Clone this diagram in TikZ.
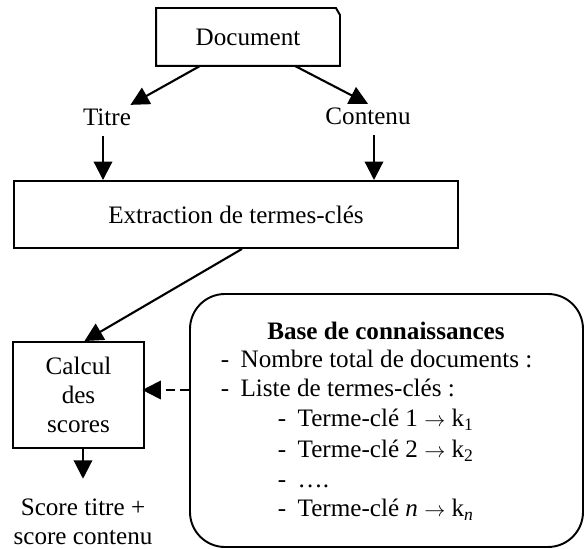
\documentclass[tikz,border=0pt]{standalone}
\usepackage{fontspec}
\setmainfont{Liberation Serif}
\usetikzlibrary{arrows.meta, positioning, calc}
\newcommand{\kbto}{{\fontsize{12}{12}\selectfont$\rightarrow$}}
\tikzset{
  every picture/.style={font=\fontsize{14.3}{16.5}\selectfont, line width=1.1pt},
  box/.style={draw, rectangle, align=center, inner sep=0pt},
  label/.style={inner sep=2pt, align=center},
  arrow/.style={-{Triangle[length=10.5pt, width=10.5pt]}, line width=1.2pt},
  dasharrow/.style={arrow, dash pattern=on 5pt off 3pt},
  kbitem/.style={anchor=base west, inner sep=0pt},
}
\begin{document}
\begin{tikzpicture}[x=1cm, y=1cm]
  \useasboundingbox (0,0) rectangle (11.72,10.98);
  % input document
  \node[inner sep=0pt, minimum width=3.64cm, minimum height=1.12cm] (doc) at (4.96,10.24) {Document};
  \draw (doc.south west) |- ([xshift=-0.08cm]doc.north east) -- ([yshift=-0.14cm]doc.north east) -- (doc.south east) -- cycle;
  \node[label, anchor=base] (titre) at (2.14,8.46) {Titre};
  \node[label, anchor=base] (contenu) at (7.36,8.48) {Contenu};
  \node[box, minimum width=8.88cm, minimum height=1.34cm] (extract) at (4.72,6.69) {Extraction de termes-clés};
  % scoring
  \node[box, minimum width=2.62cm, minimum height=2.12cm] (calcul) at (1.57,3.08) {Calcul\\des\\scores};
  \node[label] (score) at (1.66,0.54) {Score titre +\\score contenu};
  % knowledge base
  \node[draw, rounded corners=0.7cm, minimum width=7.86cm, minimum height=5.06cm] (base) at (7.73,2.57) {};
  \node[font=\fontsize{14.3}{16.5}\selectfont\bfseries, anchor=base, inner sep=0pt] (basetitle) at (7.72,4.18) {Base de connaissances};
  \foreach \i/\x/\y/\t in {1/4.40/3.62/{Nombre total de documents :},
                          2/4.40/3.04/{Liste de termes-clés :},
                          3/5.54/2.44/{Terme-clé 1 \kbto{} k\textsubscript{1}},
                          4/5.54/1.82/{Terme-clé 2 \kbto{} k\textsubscript{2}},
                          5/5.54/1.22/{….},
                          6/5.54/0.64/{Terme-clé \textit{n} \kbto{} k\textsubscript{\textit{n}}}}
    \node[kbitem] (item-\i) at (\x,\y) {-\hspace{0.45em}\t};
  % connectors
  \draw[arrow] ([xshift=-0.96cm]doc.south) -- ([xshift=-0.1cm]titre.north east);
  \draw[arrow] ([xshift=0.94cm]doc.south) -- (contenu.north);
  \draw[arrow, shorten <=3pt] ([xshift=-0.08cm]titre.south) -- ([xshift=-0.08cm]titre.south |- extract.north);
  \draw[arrow, shorten <=3pt] ([xshift=0.12cm]contenu.south) -- ([xshift=0.12cm]contenu.south |- extract.north);
  \draw[arrow] ([xshift=0.12cm]extract.south) -- ([xshift=0.12cm]calcul.north);
  \draw[arrow, shorten >=9pt] (calcul.south -| score.north) -- (score.north);
  \draw[dasharrow, shorten >=-1.5pt] ([yshift=0.1cm]calcul.east -| base.west) -- ([yshift=0.1cm]calcul.east);
\end{tikzpicture}
\end{document}
